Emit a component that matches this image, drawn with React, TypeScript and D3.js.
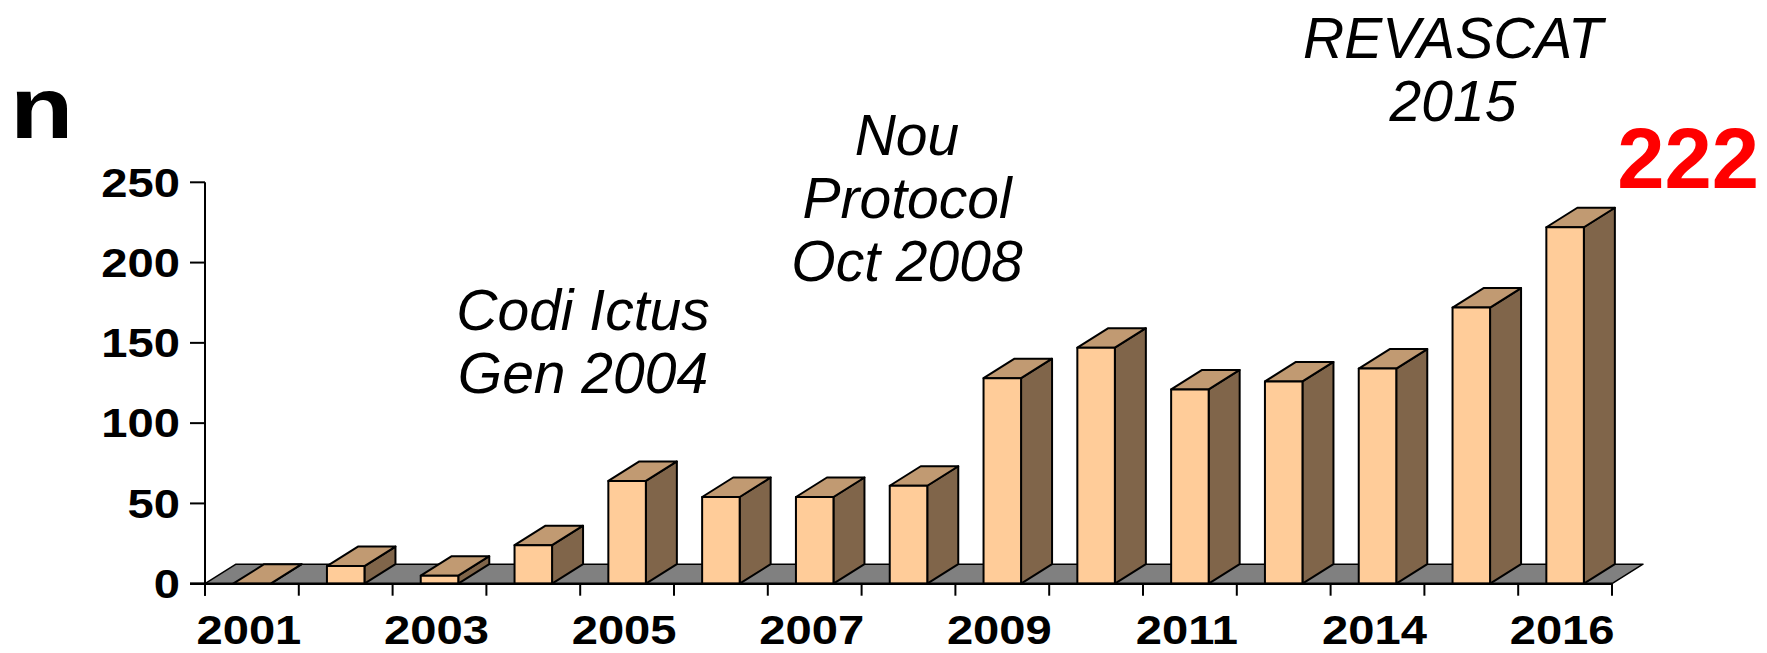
import React from 'react';
import * as d3 from 'd3';

// patients per year (12th slot has no visible label)
const years = ['2001', '2002', '2003', '2004', '2005', '2006', '2007', '2008', '2009', '2010', '2011', '2013', '2014', '2015', '2016'];
const counts = [0, 11, 5, 24, 64, 54, 54, 61, 128, 147, 121, 126, 134, 172, 222];
const yTicks = [0, 50, 100, 150, 200, 250];
const noteCodi = ['Codi Ictus', 'Gen 2004'];
const noteNou = ['Nou', 'Protocol', 'Oct 2008'];
const noteRevascat = ['REVASCAT', '2015'];
const highlight = '222';

const W = 1767;
const H = 653;
const FONT = '"Liberation Sans", Arial, sans-serif';
const DX = 31; // 3d depth offset
const DY = -19.5;

const App: React.FC = () => {
  const x = d3.scaleBand<string>().domain(years).range([205, 1612]).paddingInner(0.6).paddingOuter(0.3);
  const y = d3.scaleLinear().domain([0, 250]).range([583.7, 182.3]);
  const step = x.step();
  const bw = x.bandwidth();
  const y0 = y(0);
  const [x0, x1] = x.range();

  const boundaries = years.map((d) => (x(d) as number) - (x.paddingInner() * step) / 2);
  boundaries.push(x1);

  const stretch = 'scale(1.15,1)';

  const note = (lines: string[], cx: number, top: number) =>
    lines.map((t, i) => (
      <text key={t} x={cx} y={top + i * 63} textAnchor="middle" fontFamily={FONT} fontStyle="italic" fontSize={57} fill="#000">
        {t}
      </text>
    ));

  return (
    <svg width={W} height={H} style={{ position: 'absolute', left: 0, top: 0, display: 'block', background: '#fff' }}>
      {/* floor */}
      <path
        d={`M${x0},${y0} L${x1},${y0} L${x1 + DX},${y0 + DY} L${x0 + DX},${y0 + DY} Z`}
        fill="#808080"
        stroke="#000"
        strokeWidth={1.5}
        strokeLinejoin="round"
      />

      {/* bars */}
      {years.map((d, i) => {
        const l = x(d) as number;
        const r = l + bw;
        const t = y(counts[i]);
        return (
          <g key={d} stroke="#000" strokeWidth={2} strokeLinejoin="round">
            <path d={`M${r},${y0} L${r + DX},${y0 + DY} L${r + DX},${t + DY} L${r},${t} Z`} fill="#80654A" />
            <path d={`M${l},${t} L${l + DX},${t + DY} L${r + DX},${t + DY} L${r},${t} Z`} fill="#C19A72" />
            {counts[i] > 0 && <rect x={l} y={t} width={bw} height={y0 - t} fill="#FFCC99" />}
          </g>
        );
      })}

      {/* y axis */}
      <line x1={x0} x2={x0} y1={y(250)} y2={y0 + 12} stroke="#000" strokeWidth={2} />
      {yTicks.map((v) => (
        <g key={v}>
          <line x1={x0 - 15} x2={x0} y1={y(v)} y2={y(v)} stroke="#000" strokeWidth={2} />
          <g transform={`translate(180,${y(v)}) ${stretch}`}>
            <text x={0} y={0} dy="0.35em" textAnchor="end" fontFamily={FONT} fontWeight="bold" fontSize={41} fill="#000">
              {v}
            </text>
          </g>
        </g>
      ))}

      {/* x axis */}
      <line x1={x0 - 15} x2={x1} y1={y0} y2={y0} stroke="#000" strokeWidth={2.5} />
      {boundaries.map((b, i) => (
        <line key={i} x1={b} x2={b} y1={y0} y2={y0 + 12} stroke="#000" strokeWidth={2} />
      ))}
      {years.map((d, i) =>
        i % 2 === 0 ? (
          <g key={d} transform={`translate(${(x(d) as number) + bw / 2 - 3},644) ${stretch}`}>
            <text x={0} y={0} textAnchor="middle" fontFamily={FONT} fontWeight="bold" fontSize={41} fill="#000">
              {d}
            </text>
          </g>
        ) : null
      )}

      {/* axis title */}
      <g transform={`translate(10,138) scale(1.18,1)`}>
        <text x={0} y={0} fontFamily={FONT} fontWeight="bold" fontSize={88} fill="#000">
          n
        </text>
      </g>

      {/* annotations */}
      {note(noteCodi, 583, 330)}
      {note(noteNou, 907, 155)}
      {note(noteRevascat, 1453, 58)}

      <text x={1759} y={188} textAnchor="end" fontFamily={FONT} fontWeight="bold" fontSize={85} fill="#FF0000">
        {highlight}
      </text>
    </svg>
  );
};

export default App;
